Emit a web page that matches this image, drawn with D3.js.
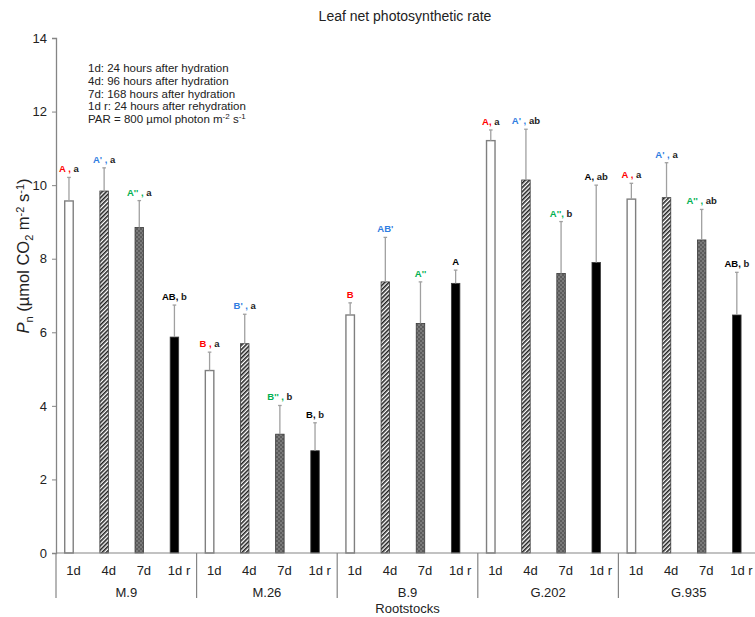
<!DOCTYPE html>
<html>
<head>
<meta charset="utf-8">
<script src="https://cdn.jsdelivr.net/npm/d3@7"></script>
<style>
  body { margin: 0; background: #fff; }
  svg { font-family: Arial, "Liberation Sans", sans-serif; }
</style>
</head>
<body>
<div id="chart"></div>
<script>
// Rootstocks and sampling times
const rootstocks = ["M.9", "M.26", "B.9", "G.202", "G.935"];
const treatments = ["1d", "4d", "7d", "1d r"];

// Mean Pn per treatment, one value per rootstock
const pn1d  = [9.57, 4.96, 6.47, 11.21, 9.62];
const pn4d  = [9.84, 5.69, 7.37, 10.14, 9.66];
const pn7d  = [8.85, 3.23, 6.24, 7.60, 8.51];
const pn1dr = [5.87, 2.78, 7.33, 7.90, 6.47];

// Standard deviations (upper error bars)
const sd1d  = [0.64, 0.50, 0.33, 0.29, 0.43];
const sd4d  = [0.63, 0.80, 1.21, 1.38, 0.95];
const sd7d  = [0.73, 0.78, 1.13, 1.41, 0.83];
const sd1dr = [0.87, 0.76, 0.36, 2.10, 1.16];

// Significance letters: coloured part (between rootstocks) and black part (between times)
const letters1d  = ["A ,", "B ,", "B", "A,", "A ,"];
const letters4d  = ["A' ,", "B' ,", "AB'", "A' ,", "A' ,"];
const letters7d  = ["A'' ,", "B'' ,", "A''", "A'',", "A'' ,"];
const letters1dr = ["AB,", "B,", "A", "A,", "AB,"];
const timeLetters1d  = ["a", "a", "", "a", "a"];
const timeLetters4d  = ["a", "a", "", "ab", "a"];
const timeLetters7d  = ["a", "b", "", "b", "ab"];
const timeLetters1dr = ["b", "b", "", "ab", "b"];

const yTicks = [0, 2, 4, 6, 8, 10, 12, 14];
const notes = [
  "1d: 24 hours after hydration",
  "4d: 96 hours after hydration",
  "7d: 168 hours after hydration",
  "1d r: 24 hours after rehydration"
];

const series = [
  { key: "1d",   values: pn1d,  sd: sd1d,  letters: letters1d,  time: timeLetters1d,  color: "#ff0000", fill: "#ffffff" },
  { key: "4d",   values: pn4d,  sd: sd4d,  letters: letters4d,  time: timeLetters4d,  color: "#2f7de1", fill: "url(#hatch)" },
  { key: "7d",   values: pn7d,  sd: sd7d,  letters: letters7d,  time: timeLetters7d,  color: "#00b050", fill: "url(#checks)" },
  { key: "1d r", values: pn1dr, sd: sd1dr, letters: letters1dr, time: timeLetters1dr, color: "#000000", fill: "#000000" }
];

const data = [];
rootstocks.forEach((r, i) => {
  series.forEach(s => {
    data.push({ rootstock: r, treatment: s.key, value: s.values[i], sd: s.sd[i],
                letter: s.letters[i], time: s.time[i], color: s.color, fill: s.fill });
  });
});

const W = 755, H = 617;
const plot = { left: 56, right: 759, top: 38, bottom: 553 };

const svg = d3.select("#chart").append("svg")
  .attr("width", W).attr("height", H);

// Fill patterns
const defs = svg.append("defs");
const hatch = defs.append("pattern").attr("id", "hatch")
  .attr("patternUnits", "userSpaceOnUse").attr("width", 3).attr("height", 3)
  .attr("patternTransform", "rotate(-45)");
hatch.append("rect").attr("width", 3).attr("height", 3).attr("fill", "#ffffff");
hatch.append("rect").attr("width", 3).attr("height", 1.6).attr("fill", "#222222");

const checks = defs.append("pattern").attr("id", "checks")
  .attr("patternUnits", "userSpaceOnUse").attr("width", 4).attr("height", 4);
checks.append("rect").attr("width", 4).attr("height", 4).attr("fill", "#7a7a7a");
checks.append("rect").attr("width", 2).attr("height", 2).attr("fill", "#5c5c5c");
checks.append("rect").attr("x", 2).attr("y", 2).attr("width", 2).attr("height", 2).attr("fill", "#5c5c5c");

const x0 = d3.scaleBand().domain(rootstocks).range([plot.left, plot.right]);
const x1 = d3.scaleBand().domain(treatments).range([0, x0.bandwidth()]);
const y = d3.scaleLinear().domain([0, 14]).range([plot.bottom, plot.top]);

const barW = 8.5, barShift = -4.6;
const cx = d => x0(d.rootstock) + x1(d.treatment) + x1.bandwidth() / 2 + barShift;

// Title
svg.append("text").attr("x", 405).attr("y", 21)
  .attr("text-anchor", "middle").style("font-size", "14px").attr("fill", "#222")
  .text("Leaf net photosynthetic rate");

// Y axis
const yAxis = svg.append("g").attr("transform", `translate(${plot.left},0)`)
  .call(d3.axisLeft(y).tickValues(yTicks).tickSize(4).tickPadding(5));
yAxis.select(".domain").attr("stroke", "#858585").attr("stroke-width", 1.3);
yAxis.selectAll(".tick line").attr("stroke", "#858585");
yAxis.selectAll(".tick text").style("font-size", "13px").attr("fill", "#222").attr("font-family", "Arial, sans-serif");

// Y axis title
const yTitle = svg.append("text")
  .attr("transform", "translate(29,256) rotate(-90)")
  .attr("text-anchor", "middle").style("font-size", "16.5px").attr("fill", "#222");
yTitle.append("tspan").attr("font-style", "italic").text("P");
yTitle.append("tspan").attr("dy", 3.5).style("font-size", "11px").text("n");
yTitle.append("tspan").attr("dy", -3.5).text(" (µmol CO");
yTitle.append("tspan").attr("dy", 3.5).style("font-size", "11px").text("2");
yTitle.append("tspan").attr("dy", -3.5).text(" m");
yTitle.append("tspan").attr("dy", -5).style("font-size", "11px").text("-2");
yTitle.append("tspan").attr("dy", 5).text(" s");
yTitle.append("tspan").attr("dy", -5).style("font-size", "11px").text("-1");
yTitle.append("tspan").attr("dy", 5).text(")");

// Bars
svg.append("g").selectAll("rect").data(data).enter().append("rect")
  .attr("x", d => cx(d) - barW / 2)
  .attr("y", d => y(d.value))
  .attr("width", barW)
  .attr("height", d => y(0) - y(d.value))
  .attr("fill", d => d.fill)
  .attr("stroke", d => d.treatment === "1d" ? "#7f7f7f" : "#3a3a3a")
  .attr("stroke-width", d => d.treatment === "1d" ? 1.4 : 0.8);

// Error bars
const err = svg.append("g").attr("stroke", "#a0a0a0").attr("stroke-width", 1.3);
err.selectAll("line.v").data(data).enter().append("line").attr("class", "v")
  .attr("x1", cx).attr("x2", cx)
  .attr("y1", d => y(d.value)).attr("y2", d => y(d.value + d.sd));
err.selectAll("line.cap").data(data).enter().append("line").attr("class", "cap")
  .attr("x1", d => cx(d) - 1.8).attr("x2", d => cx(d) + 1.8)
  .attr("y1", d => y(d.value + d.sd)).attr("y2", d => y(d.value + d.sd));

// Significance letters
const lab = svg.append("g").selectAll("text").data(data).enter().append("text")
  .attr("x", cx).attr("y", d => y(d.value + d.sd) - 5)
  .attr("text-anchor", "middle").style("font-size", "9.5px").style("font-weight", "bold");
lab.append("tspan").attr("fill", d => d.color).text(d => d.letter);
lab.append("tspan").attr("fill", "#222").text(d => d.time ? " " + d.time : "");

// Category axis
const xa = svg.append("g").attr("stroke", "#858585").attr("stroke-width", 1.2);
xa.append("line").attr("x1", plot.left).attr("x2", plot.right).attr("y1", plot.bottom).attr("y2", plot.bottom);
xa.selectAll("line.sep").data(rootstocks.concat([null])).enter().append("line").attr("class", "sep")
  .attr("x1", d => d ? x0(d) : plot.right).attr("x2", d => d ? x0(d) : plot.right)
  .attr("y1", plot.bottom).attr("y2", 598);

const catLabels = svg.append("g").style("font-size", "13px").attr("fill", "#222").attr("text-anchor", "middle");
rootstocks.forEach(r => {
  treatments.forEach(t => {
    catLabels.append("text")
      .attr("x", x0(r) + x1(t) + x1.bandwidth() / 2)
      .attr("y", 575).text(t);
  });
  catLabels.append("text")
    .attr("x", x0(r) + x0.bandwidth() / 2)
    .attr("y", 597).text(r);
});

svg.append("text").attr("x", (plot.left + plot.right) / 2).attr("y", 613)
  .attr("text-anchor", "middle").style("font-size", "13px").attr("fill", "#222")
  .text("Rootstocks");

// Notes block
const note = svg.append("g").style("font-size", "11.5px").attr("fill", "#222");
notes.forEach((n, i) => {
  note.append("text").attr("x", 88).attr("y", 72 + i * 12.8).text(n);
});
const par = note.append("text").attr("x", 88).attr("y", 72 + 4 * 12.8);
par.append("tspan").text("PAR = 800 µmol photon m");
par.append("tspan").attr("dy", -4).style("font-size", "8px").text("-2");
par.append("tspan").attr("dy", 4).text(" s");
par.append("tspan").attr("dy", -4).style("font-size", "8px").text("-1");
</script>
</body>
</html>
